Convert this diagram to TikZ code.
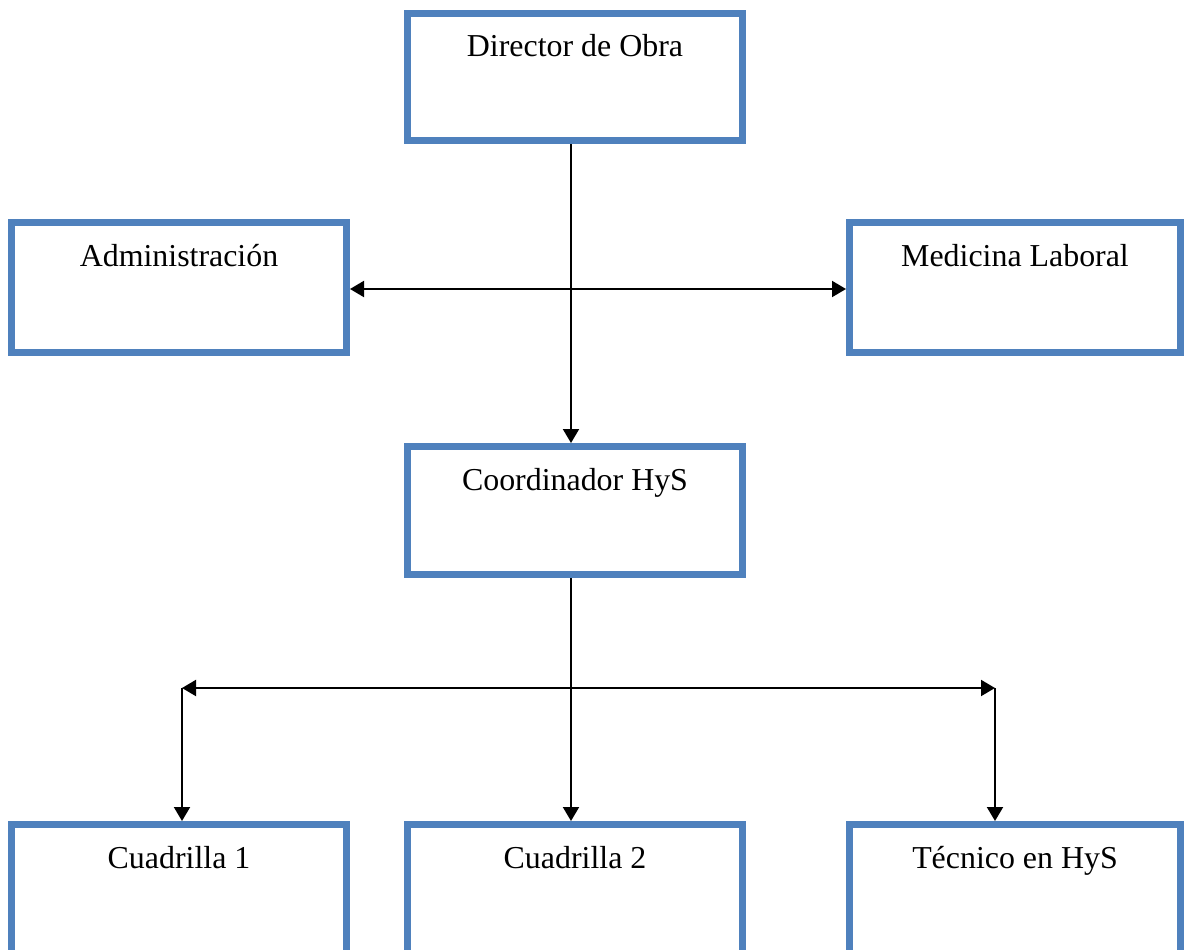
\documentclass[tikz,border=0pt]{standalone}
\usepackage{fontspec}
\setmainfont{Liberation Serif}
\usetikzlibrary{arrows.meta,calc}
\definecolor{boxblue}{HTML}{4F81BD}
\tikzset{
  box/.style={draw=boxblue, line width=7pt, rectangle, inner sep=0pt,
    minimum width=335pt, minimum height=130pt, anchor=north west, fill=white},
  lbl/.style={font=\fontsize{31.9}{38}\selectfont, anchor=base, inner sep=0pt},
  conn/.style={line width=2pt, draw=black, -{Triangle[length=14pt,width=16pt]}},
  dconn/.style={line width=2pt, draw=black, {Triangle[length=14pt,width=16pt]}-{Triangle[length=14pt,width=16pt]}}
}
\begin{document}
\begin{tikzpicture}[x=1pt,y=-1pt]
\useasboundingbox (0,0) rectangle (1184,950);
\clip (0,0) rectangle (1184,950);
\fill[white] (0,0) rectangle (1184,950);
% boxes
\node[box, minimum height=127pt] (dir) at (404,10) {};
\node[box] (adm) at (8,219) {};
\node[box, minimum width=331pt] (med) at (846,219) {};
\node[box, minimum height=128pt] (coo) at (404,443) {};
\node[box, minimum height=200pt] (c1) at (8,821) {};
\node[box, minimum height=200pt] (c2) at (404,821) {};
\node[box, minimum width=331pt, minimum height=200pt] (tec) at (846,821) {};
% labels
\node[lbl] (dirt) at ([yshift=-47pt]dir.north) {Director de Obra};
\node[lbl] (admt) at ([yshift=-47pt]adm.north) {Administración};
\node[lbl] (medt) at ([yshift=-47pt]med.north) {Medicina Laboral};
\node[lbl] (coot) at ([yshift=-47pt]coo.north) {Coordinador HyS};
\node[lbl] (c1t) at ([yshift=-47pt]c1.north) {Cuadrilla 1};
\node[lbl] (c2t) at ([yshift=-47pt]c2.north) {Cuadrilla 2};
\node[lbl] (tect) at ([yshift=-47pt]tec.north) {Técnico en HyS};
% connectors
\draw[conn] ([xshift=-4pt]dir.south) -- ([xshift=-4pt]coo.north);
\draw[dconn] ([yshift=-1.5pt]adm.east) -- ([yshift=-1.5pt]med.west);
\coordinate (L) at (182,688);
\coordinate (R) at (995,688);
\draw[dconn] (L) -- (R);
\draw[conn] ([xshift=-4pt]coo.south) -- ([xshift=-4pt]c2.north);
\draw[conn] (L) -- (L |- c1.north);
\draw[conn] (R) -- (R |- tec.north);
\end{tikzpicture}
\end{document}
